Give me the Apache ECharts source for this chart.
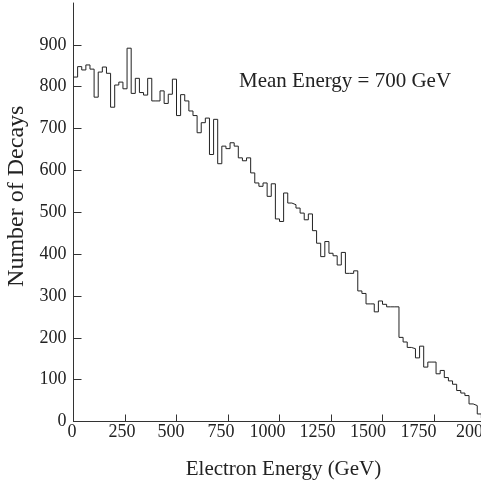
<!DOCTYPE html>
<html>
<head>
<meta charset="utf-8">
<script src="https://cdn.jsdelivr.net/npm/echarts@6/dist/echarts.min.js"></script>
<style>
  html, body { margin: 0; padding: 0; background: #fff; }
  #chart { width: 481px; height: 482px; }
</style>
</head>
<body>
<div id="chart"></div>
<script>
// histogram of electron energies, 20 GeV bins starting at 0
const binWidth = 20;
const counts = [
  823, 848, 840, 852, 842, 775, 835, 847, 832, 751,
  804, 811, 795, 892, 784, 820, 786, 780, 820, 766,
  766, 790, 760, 782, 818, 731, 781, 766, 742, 731,
  690, 714, 725, 638, 722, 616, 658, 652, 666, 658,
  630, 623, 630, 594, 570, 562, 570, 538, 568, 484,
  478, 546, 522, 518, 510, 498, 482, 496, 456, 426,
  394, 430, 402, 396, 374, 404, 354, 354, 360, 312,
  306, 281, 281, 262, 288, 280, 274, 274, 274, 201,
  190, 177, 174, 152, 180, 130, 142, 142, 114, 122,
  105, 97, 89, 74, 68, 62, 42, 38, 18, 8
];
const xTicks = [0, 250, 500, 750, 1000, 1250, 1500, 1750, 2000];
const yTicks = [0, 100, 200, 300, 400, 500, 600, 700, 800, 900];
const meanEnergy = 700;

const font = "Liberation Serif";
const ink = "#222";

// in the source figure the x labels drift left of their ticks (px)
const xLabelNudge = [1.5, 3, 5.5, 7, 12, 13.5, 14.5, 15.5, 11.5];
const xLabelRich = {};
xLabelNudge.forEach((d, i) => {
  xLabelRich["n" + i] = { fontFamily: font, fontSize: 18, color: ink, padding: [0, 2 * d, 0, 0] };
});

// step outline: each point is a bin's left edge, plus the closing right edge
const stepData = counts.map((c, i) => [i * binWidth, c]);
stepData.push([counts.length * binWidth, counts[counts.length - 1]]);

const chart = echarts.init(document.getElementById("chart"));
chart.setOption({
  animation: false,
  backgroundColor: "#fff",
  title: {
    text: "Mean Energy = " + meanEnergy + " GeV",
    left: 239,
    top: 71,
    padding: 0,
    textStyle: { fontFamily: font, fontSize: 21, fontWeight: "normal", color: ink }
  },
  // the 2000 label runs off the right edge in the original, so let the grid overflow
  grid: { left: 73.5, right: -4.5, top: 3, bottom: 60.5, outerBoundsMode: "none", containLabel: false },
  xAxis: {
    type: "value",
    min: xTicks[0],
    max: xTicks[xTicks.length - 1],
    interval: xTicks[1] - xTicks[0],
    name: "Electron Energy (GeV)",
    nameLocation: "middle",
    nameGap: 37,
    nameTextStyle: { fontFamily: font, fontSize: 21, color: ink, padding: [0, 0, 0, 8] },
    axisLine: { lineStyle: { color: "#333", width: 1 } },
    axisTick: { inside: true, length: 7, lineStyle: { color: "#333" }, customValues: xTicks },
    axisLabel: {
      margin: 2,
      fontFamily: font,
      fontSize: 18,
      color: ink,
      customValues: xTicks,
      formatter: v => "{n" + xTicks.indexOf(v) + "|" + v + "}",
      rich: xLabelRich
    },
    splitLine: { show: false }
  },
  yAxis: {
    type: "value",
    min: yTicks[0],
    max: 1000,
    interval: yTicks[1] - yTicks[0],
    name: "Number of Decays",
    nameLocation: "middle",
    nameGap: 42,
    nameTextStyle: { fontFamily: font, fontSize: 24, color: ink, padding: [0, 0, 0, 32] },
    axisLine: { show: true, lineStyle: { color: "#333", width: 1 } },
    axisTick: { show: true, inside: true, length: 8, lineStyle: { color: "#333" }, customValues: yTicks },
    axisLabel: {
      margin: 7,
      fontFamily: font,
      fontSize: 18,
      color: ink,
      customValues: yTicks,
      formatter: v => String(v)
    },
    splitLine: { show: false }
  },
  series: [
    {
      type: "line",
      step: "end",
      data: stepData,
      symbol: "none",
      lineStyle: { color: ink, width: 1 }
    }
  ]
});
</script>
</body>
</html>
